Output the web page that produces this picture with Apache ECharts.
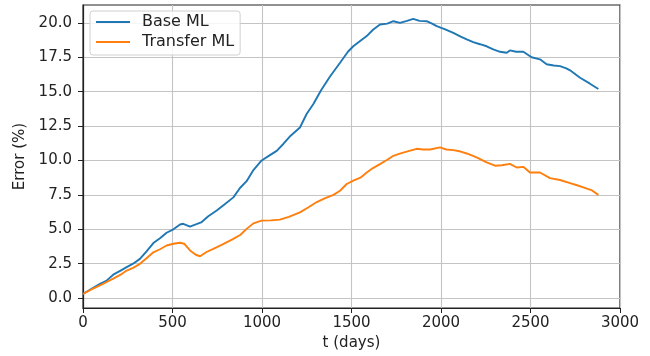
<!DOCTYPE html>
<html>
<head>
<meta charset="utf-8">
<script src="https://cdn.jsdelivr.net/npm/echarts@6/dist/echarts.min.js"></script>
<style>
  html, body { margin: 0; padding: 0; background: #fff; }
  #chart { width: 650px; height: 356px; }
</style>
</head>
<body>
<div id="chart"></div>
<script>
// Prediction error over time for the two models
const baseDays = [0, 50, 95, 130, 169, 210, 244, 280, 318, 355, 393, 430, 467, 505, 542, 560, 598, 630, 660, 700, 747, 790, 840, 877, 914, 952, 998, 1040, 1082, 1119, 1160, 1212, 1250, 1287, 1330, 1380, 1436, 1480, 1510, 1550, 1585, 1620, 1659, 1700, 1734, 1771, 1810, 1845, 1880, 1920, 1950, 1976, 2020, 2069, 2110, 2144, 2180, 2218, 2255, 2292, 2330, 2367, 2385, 2420, 2460, 2506, 2553, 2590, 2630, 2665, 2700, 2721, 2777, 2830, 2879];
const baseError = [0.3, 0.7, 1.04, 1.25, 1.7, 2.0, 2.25, 2.5, 2.85, 3.4, 4.0, 4.35, 4.75, 5.0, 5.35, 5.4, 5.2, 5.35, 5.5, 5.95, 6.36, 6.8, 7.32, 8.0, 8.5, 9.3, 10.0, 10.35, 10.7, 11.2, 11.8, 12.4, 13.4, 14.1, 15.1, 16.1, 17.1, 17.9, 18.3, 18.7, 19.04, 19.5, 19.88, 19.95, 20.12, 20.0, 20.15, 20.29, 20.15, 20.12, 19.95, 19.76, 19.55, 19.27, 19.0, 18.8, 18.6, 18.45, 18.3, 18.07, 17.9, 17.83, 18.0, 17.9, 17.9, 17.5, 17.35, 16.99, 16.9, 16.86, 16.7, 16.55, 16.01, 15.6, 15.2];

const transferDays = [0, 50, 95, 130, 169, 210, 244, 280, 318, 355, 393, 430, 467, 505, 542, 565, 598, 630, 654, 690, 728, 780, 840, 880, 914, 952, 998, 1050, 1100, 1150, 1212, 1260, 1306, 1350, 1399, 1436, 1473, 1510, 1550, 1585, 1620, 1659, 1700, 1734, 1770, 1808, 1864, 1900, 1939, 1994, 2030, 2069, 2110, 2144, 2199, 2255, 2302, 2340, 2385, 2423, 2460, 2497, 2553, 2609, 2665, 2721, 2760, 2795, 2840, 2879];
const transferError = [0.3, 0.65, 0.92, 1.15, 1.41, 1.7, 2.0, 2.2, 2.49, 2.9, 3.33, 3.55, 3.82, 3.95, 4.02, 3.95, 3.46, 3.15, 3.04, 3.35, 3.58, 3.9, 4.3, 4.6, 5.03, 5.43, 5.63, 5.65, 5.7, 5.9, 6.23, 6.6, 6.98, 7.25, 7.5, 7.8, 8.29, 8.53, 8.75, 9.13, 9.45, 9.74, 10.05, 10.34, 10.5, 10.65, 10.85, 10.8, 10.8, 10.95, 10.8, 10.75, 10.65, 10.51, 10.22, 9.86, 9.62, 9.65, 9.75, 9.49, 9.54, 9.13, 9.13, 8.72, 8.58, 8.36, 8.2, 8.05, 7.85, 7.5];

const yTicks = [0, 2.5, 5, 7.5, 10, 12.5, 15, 17.5, 20];
const seriesNames = ['Base ML', 'Transfer ML'];

const FONT = 'DejaVu Sans';
const pair = (xs, ys) => xs.map((x, i) => [x, ys[i]]);

const chart = echarts.init(document.getElementById('chart'), null, { renderer: 'canvas' });
chart.setOption({
  animation: false,
  backgroundColor: '#fff',
  grid: {
    left: 83, right: 30, top: 5, bottom: 48,
    show: true, borderColor: '#222', borderWidth: 1.2, backgroundColor: 'transparent'
  },
  legend: {
    data: seriesNames,
    orient: 'vertical',
    left: 90, top: 11,
    padding: [3, 6, 5, 6],
    itemGap: 4,
    itemWidth: 34, itemHeight: 2,
    icon: 'rect',
    backgroundColor: 'rgba(255,255,255,0.85)',
    borderColor: '#d0d0d0', borderWidth: 1, borderRadius: 3,
    textStyle: { fontFamily: FONT, fontSize: 16, color: '#222', lineHeight: 16, padding: [0, 0, 0, 7] }
  },
  xAxis: {
    type: 'value', min: 0, max: 3000, interval: 500,
    name: 't (days)', nameLocation: 'middle', nameGap: 27,
    nameTextStyle: { fontFamily: FONT, fontSize: 15, color: '#222' },
    axisLine: { show: true, onZero: false, lineStyle: { color: '#222', width: 1.2 } },
    axisTick: { show: true, inside: false, length: 5, lineStyle: { color: '#222', width: 1 } },
    axisLabel: { fontFamily: FONT, fontSize: 15, color: '#222', margin: 8, formatter: v => String(v) },
    splitLine: { show: true, lineStyle: { color: '#c4c4c4', width: 1.1 } }
  },
  yAxis: {
    type: 'value', min: -0.72, max: 21.3,
    name: 'Error (%)', nameLocation: 'middle', nameGap: 54, nameRotate: 90,
    nameTextStyle: { fontFamily: FONT, fontSize: 15, color: '#222' },
    axisLine: { show: true, onZero: false, lineStyle: { color: '#222', width: 1.2 } },
    axisTick: { show: true, inside: false, length: 5, customValues: yTicks, lineStyle: { color: '#222', width: 1 } },
    axisLabel: { fontFamily: FONT, fontSize: 15, color: '#222', margin: 11, customValues: yTicks,
      formatter: v => v.toFixed(1) },
    splitLine: { show: true, customValues: yTicks, lineStyle: { color: '#c4c4c4', width: 1.1 } }
  },
  series: [
    {
      name: seriesNames[0], type: 'line', showSymbol: false, symbol: 'none',
      data: pair(baseDays, baseError),
      lineStyle: { color: '#1f77b4', width: 1.9 }, itemStyle: { color: '#1f77b4' }, z: 3
    },
    {
      name: seriesNames[1], type: 'line', showSymbol: false, symbol: 'none',
      data: pair(transferDays, transferError),
      lineStyle: { color: '#ff7f0e', width: 1.9 }, itemStyle: { color: '#ff7f0e' }, z: 4
    }
  ]
});
</script>
</body>
</html>
